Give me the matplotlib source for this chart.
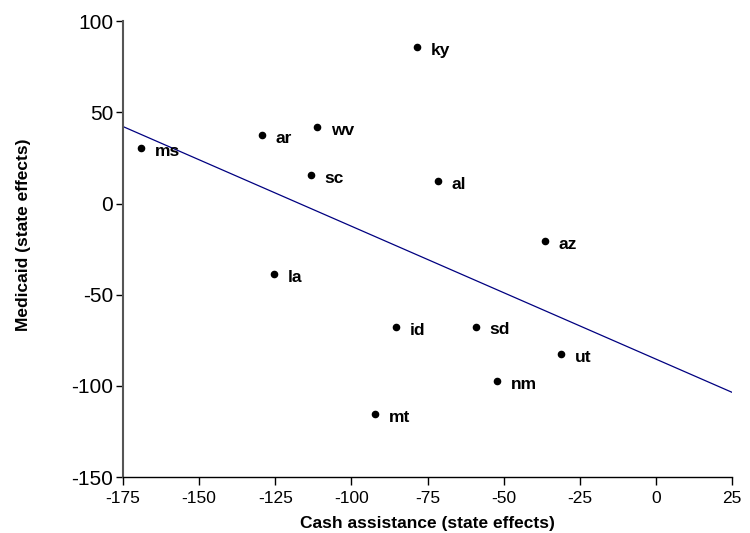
import numpy as np
import matplotlib.pyplot as plt

plt.rcParams['font.family'] = ['Liberation Sans', 'DejaVu Sans']
plt.rcParams['axes.unicode_minus'] = False

# state effects
states = ['ms', 'ar', 'wv', 'sc', 'ky', 'al', 'az', 'la', 'id', 'mt', 'sd', 'ut', 'nm']
cash = [-169.1, -129.4, -111.3, -113.3, -78.4, -71.6, -36.4, -125.3, -85.4, -92.2, -59.2, -31.2, -52.2]
medicaid = [30.4, 37.5, 41.9, 15.6, 85.7, 12.3, -20.6, -38.7, -67.8, -115.6, -67.6, -82.6, -97.4]

x_ticks = [-175, -150, -125, -100, -75, -50, -25, 0, 25]
y_ticks = [-150, -100, -50, 0, 50, 100]

fig = plt.figure(figsize=(7.5, 5.33), dpi=100)
ax = fig.add_axes([0.164, 0.105, 0.812, 0.855])

ax.scatter(cash, medicaid, s=20, color='black', zorder=3)
for s, x, y in zip(states, cash, medicaid):
    ax.annotate(s, (x, y), xytext=(10, -5.5), textcoords='offset points',
                fontsize=12.5, fontweight='bold')

# least squares line
b, a = np.polyfit(cash, medicaid, 1)
xl = np.array([-175, 25])
ax.plot(xl, a + b * xl, color='#000080', lw=0.9)

ax.set_xlim(-175, 25)
ax.set_ylim(-150, 100)
ax.set_xticks(x_ticks)
ax.set_yticks(y_ticks)
ax.tick_params(axis='x', labelsize=12.5, length=6, width=1, pad=4)
ax.tick_params(axis='y', labelsize=15, length=5, width=1, pad=2)
for side in ['top', 'right']:
    ax.spines[side].set_visible(False)
ax.spines['left'].set_color('#555555')
ax.spines['left'].set_linewidth(1.5)
ax.spines['bottom'].set_linewidth(1)

ax.set_xlabel('Cash assistance (state effects)', fontsize=12.5, fontweight='bold', va='center')
ax.set_ylabel('Medicaid (state effects)', fontsize=12.5, fontweight='bold', va='center')
ax.xaxis.set_label_coords(0.5, -0.101)
ax.yaxis.set_label_coords(-0.164, 0.531)

fig.savefig('out.png', dpi=100)
